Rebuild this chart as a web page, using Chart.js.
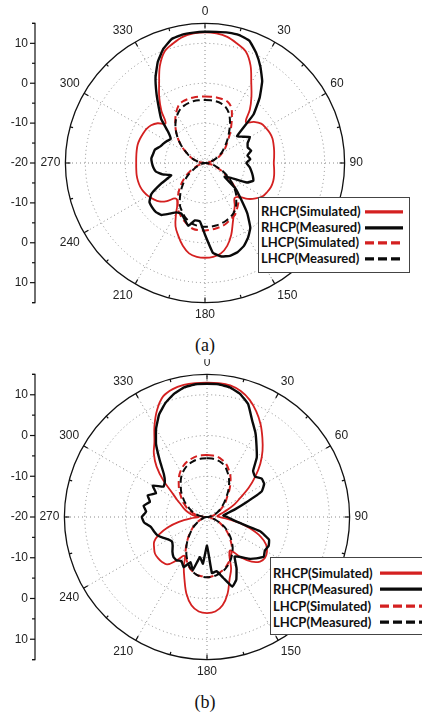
<!DOCTYPE html>
<html>
<head>
<meta charset="utf-8">
<script src="https://cdn.jsdelivr.net/npm/chart.js@4.4.0/dist/chart.umd.min.js"></script>
<style>
  html, body { margin: 0; padding: 0; background: #fff; }
  body { width: 422px; height: 714px; position: relative; overflow: hidden; }
  .plot { position: absolute; left: 0; top: 0; width: 422px; }
  .clip { position: absolute; left: 0; overflow: hidden; width: 422px; }
  .legend { position: absolute; background: #fff; border: 1px solid #444; box-sizing: border-box;
            font-family: Lato, "Liberation Sans", sans-serif; font-weight: 700; font-size: 13px; color: #111; }
  .legend .row { position: relative; white-space: nowrap; }
  .legend svg { position: absolute; }
  .caption { position: absolute; left: 0; width: 410px; text-align: center;
             font-family: "Liberation Serif", serif; font-size: 18px; color: #111; }
</style>
</head>
<body>

<canvas id="chartA" class="plot" width="422" height="330"></canvas>
<div id="legendA" class="legend" style="left:258px; top:197px; width:152px; height:76px;"></div>
<div class="caption" style="top:335px;">(a)</div>

<div class="clip" style="top:359px; height:330px;">
  <canvas id="chartB" class="plot" style="top:-4px;" width="422" height="334"></canvas>
</div>
<div id="legendB" class="legend" style="left:270px; top:557px; width:170px; height:78px;"></div>
<div class="caption" style="top:692px;">(b)</div>

<script>
// angle categories (degrees, clockwise from top)
var angles = [0, 5, 10, 15, 20, 25, 30, 35, 40, 45, 50, 55, 60, 65, 70, 75, 80, 85,
              90, 95, 100, 105, 110, 115, 120, 125, 130, 135, 140, 145, 150, 155, 160, 165, 170, 175,
              180, 185, 190, 195, 200, 205, 210, 215, 220, 225, 230, 235, 240, 245, 250, 255, 260, 265,
              270, 275, 280, 285, 290, 295, 300, 305, 310, 315, 320, 325, 330, 335, 340, 345, 350, 355];

var gainTicks  = [-20, -10, 0, 10, 15];   // radial grid
var axisLabels = [-10, 0, 10];            // left axis labels (mirrored above/below centre)
var axisMinor  = [-15, -5, 5, 15];

var seriesNames = ['RHCP(Simulated)', 'RHCP(Measured)', 'LHCP(Simulated)', 'LHCP(Measured)'];

// ---- pattern (a) ----
var a_rhcpSim = [12.75, 12.6, 12.1, 11.0, 9.8, 7.0, 3.2, 0.3, -2.5, -5.5, -4.0, -2.8,
                 -2.4, -2.1, -2.0, -2.2, -2.4, -2.6, -2.75, -2.6, -2.4, -2.3, -2.4, -2.8,
                 -3.3, -4.5, -6.0, -8.0, -8.5, -7.0, -5.5, -3.5, -0.8, 1.5, 3.0, 3.6,
                 3.75, 3.6, 3.0, 1.5, -0.5, -2.5, -5.5, -8.0, -8.4, -6.5, -5.0, -4.2,
                 -3.5, -3.0, -2.7, -2.6, -2.6, -2.7, -2.75, -2.7, -2.6, -2.5, -2.6, -2.8,
                 -3.0, -3.5, -4.5, -6.0, -3.0, 0.0, 3.0, 6.8, 9.7, 11.0, 12.1, 12.6];
var a_rhcpMeas = [12.9, 13.0, 13.2, 13.2, 12.6, 10.4, 7.8, 5.0, 1.3, -2.8, -9.5, -8.5,
                  -7.0, -8.2, -8.6, -8.0, -9.2, -8.6, -9.6, -8.8, -8.2, -7.6, -7.1, -8.4,
                  -12.5, -14.0, -10.0, -7.3, -3.5, -0.2, 1.6, 3.0, 3.8, 4.1, 3.8, 2.6,
                  -2.0, -5.3, -5.4, -3.7, -5.0, -6.0, -5.7, -4.5, -3.0, -2.6, -2.7, -3.0,
                  -4.5, -8.0, -11.0, -9.0, -7.5, -7.0, -6.7, -6.5, -6.8, -7.0, -8.0, -8.5,
                  -9.0, -9.5, -8.0, -4.5, -2.0, 1.2, 4.8, 8.0, 10.5, 12.2, 12.7, 12.8];
var a_lhcpSim = [-3.3, -3.3, -3.3, -3.4, -3.6, -4.5, -6.5, -8.5, -10.2, -11.8, -13.0, -14.0,
                 -15.0, -16.0, -17.0, -18.0, -19.0, -20, -20, -20, -19.0, -18.0, -17.0, -15.5,
                 -14.0, -12.0, -10.0, -8.0, -7.0, -6.0, -5.0, -4.5, -4.0, -3.6, -3.4, -3.2,
                 -3.1, -3.1, -3.2, -3.8, -4.6, -5.5, -6.5, -8.0, -9.5, -11.0, -12.5, -14.0,
                 -15.5, -17.0, -18.0, -19.0, -20, -20, -20, -19.5, -18.5, -17.5, -16.5, -15.5,
                 -14.5, -13.0, -11.5, -10.0, -8.5, -7.0, -5.5, -4.2, -3.6, -3.4, -3.3, -3.3];
var a_lhcpMeas = [-4.2, -4.2, -4.3, -4.5, -5.0, -6.0, -7.5, -9.2, -10.8, -12.2, -13.5, -14.5,
                  -15.5, -16.5, -17.5, -18.5, -19.5, -20, -20, -19.5, -18.5, -17.5, -16.5, -15.0,
                  -13.5, -12.0, -10.5, -9.0, -7.8, -6.5, -5.6, -5.0, -4.6, -4.3, -4.1, -4.0,
                  -4.0, -4.1, -4.3, -4.8, -5.5, -6.5, -7.5, -9.0, -10.5, -12.0, -13.5, -15.0,
                  -16.5, -17.5, -18.5, -19.5, -20, -20, -20, -19.5, -18.5, -17.5, -16.5, -15.5,
                  -14.5, -13.0, -11.5, -10.0, -8.5, -7.2, -6.1, -5.2, -4.7, -4.4, -4.2, -4.2];

// ---- pattern (b) ----
var b_rhcpSim = [13.0, 13.0, 12.8, 12.0, 10.6, 8.6, 6.3, 3.7, 1.2, -1.5, -4.5, -7.5,
                 -10.5, -12.5, -14.5, -16.0, -17.0, -17.5, -17.0, -15.0, -12.0, -9.0, -6.0, -4.0,
                 -3.0, -2.6, -3.0, -4.5, -7.0, -10.0, -9.0, -6.0, -3.8, -0.5, 2.0, 3.3,
                 3.6, 3.3, 2.0, -0.5, -3.8, -6.5, -9.0, -7.0, -4.8, -4.4, -4.3, -4.4,
                 -5.0, -5.7, -7.5, -10.0, -13.0, -16.0, -18.0, -17.0, -16.0, -15.0, -14.0, -13.0,
                 -11.5, -9.5, -6.0, -2.5, 0.3, 2.5, 5.8, 9.0, 11.5, 12.5, 12.9, 13.0];
var b_rhcpMeas = [12.7, 12.7, 12.3, 11.3, 9.5, 6.2, 3.8, 1.2, -1.0, -4.0, -4.6, -3.6,
                  -3.8, -5.2, -10.0, -13.0, -15.0, -16.0, -15.0, -14.0, -12.0, -6.5, -3.8, -3.3,
                  -3.6, -3.0, -4.2, -5.5, -7.2, -8.2, -5.5, -3.0, -1.8, -4.5, -6.5, -6.2,
                  -13.0, -8.5, -10.0, -6.5, -8.2, -6.4, -7.5, -7.0, -7.2, -8.0, -9.0, -9.5,
                  -9.0, -8.0, -7.0, -6.5, -6.0, -4.5, -4.0, -5.0, -4.2, -5.5, -4.5, -6.2,
                  -4.6, -7.0, -6.5, -5.0, -2.0, 1.8, 5.0, 7.8, 9.8, 11.3, 12.3, 12.7];
var b_lhcpSim = [-4.8, -4.85, -5.0, -5.5, -6.2, -7.3, -8.5, -10.0, -11.5, -13.0, -14.0, -15.0,
                 -16.0, -16.8, -17.5, -18.2, -19.0, -19.5, -20, -20, -19.5, -18.5, -17.5, -16.5,
                 -15.5, -14.2, -13.0, -11.8, -10.5, -9.5, -8.5, -7.6, -6.8, -6.2, -5.7, -5.4,
                 -5.2, -5.4, -5.6, -6.2, -7.0, -8.2, -9.5, -11.0, -12.5, -13.8, -15.0, -16.0,
                 -17.0, -17.8, -18.5, -19.0, -19.5, -20, -20, -19.0, -17.5, -16.5, -15.5, -14.5,
                 -13.5, -12.5, -11.5, -10.3, -9.2, -8.0, -7.0, -6.2, -5.6, -5.2, -4.9, -4.8];
var b_lhcpMeas = [-5.6, -5.6, -5.8, -6.2, -6.9, -8.0, -9.2, -10.6, -12.0, -13.4, -14.5, -15.5,
                  -16.3, -17.0, -17.8, -18.5, -19.2, -19.7, -20, -20, -19.5, -18.5, -17.5, -16.2,
                  -15.0, -13.8, -12.6, -11.4, -10.2, -9.2, -8.2, -7.3, -6.6, -6.0, -5.6, -5.3,
                  -5.2, -5.3, -5.6, -6.2, -7.2, -8.5, -9.8, -11.2, -12.6, -14.0, -15.2, -16.2,
                  -17.2, -18.0, -18.7, -19.2, -19.6, -20, -20, -19.2, -18.0, -17.0, -16.2, -15.3,
                  -14.3, -13.2, -12.2, -11.0, -10.0, -8.8, -7.8, -7.0, -6.4, -6.0, -5.7, -5.6];

var RED = '#d42020', BLACK = '#0a0a0a';
var lineStyles = [
  { color: RED,   width: 1.8, dash: [],     tension: 0.35 },
  { color: BLACK, width: 2.4, dash: [],     tension: 0.1 },
  { color: RED,   width: 2,   dash: [7, 4], tension: 0.35 },
  { color: BLACK, width: 2,   dash: [7, 4], tension: 0.35 }
];

// rim ticks, outer circle and the left dB axis, all from the r scale
const polarFrame = {
  id: 'polarFrame',
  afterDraw(chart, args, opts) {
    const s = chart.scales.r, ctx = chart.ctx;
    const R = s.drawingArea, cx = s.xCenter, cy = s.yCenter;
    ctx.save();
    ctx.strokeStyle = '#111';
    ctx.lineWidth = 1.3;
    ctx.beginPath();
    ctx.arc(cx, cy, R, 0, Math.PI * 2);
    ctx.stroke();

    ctx.lineWidth = 1.2;
    angles.forEach(function(a, i) {
      if (a % 15) return;
      const len = a % 30 ? 3 : 5;
      const p1 = s.getPointPosition(i, R), p2 = s.getPointPosition(i, R - len);
      ctx.beginPath(); ctx.moveTo(p1.x, p1.y); ctx.lineTo(p2.x, p2.y); ctx.stroke();
    });

    // left axis
    const x = opts.axisX;
    ctx.beginPath();
    ctx.moveTo(x - 3, cy - R); ctx.lineTo(x, cy - R); ctx.lineTo(x, cy + R); ctx.lineTo(x - 3, cy + R);
    ctx.stroke();
    ctx.font = '12px "Liberation Sans", Arial, sans-serif';
    ctx.fillStyle = '#222';
    ctx.textAlign = 'right';
    ctx.textBaseline = 'middle';
    axisMinor.forEach(function(v) {
      const d = s.getDistanceFromCenterForValue(v);
      [cy - d, cy + d].forEach(function(y) {
        ctx.beginPath(); ctx.moveTo(x - 3, y); ctx.lineTo(x, y); ctx.stroke();
      });
    });
    axisLabels.forEach(function(v) {
      const d = s.getDistanceFromCenterForValue(v);
      [cy - d, cy + d].forEach(function(y) {
        ctx.beginPath(); ctx.moveTo(x - 5, y); ctx.lineTo(x, y); ctx.stroke();
        ctx.fillText(String(v), x - 7, y);
      });
    });
    ctx.beginPath(); ctx.moveTo(x - 5, cy); ctx.lineTo(x, cy); ctx.stroke();
    ctx.fillText(String(gainTicks[0]), x - 7, cy);
    ctx.restore();
  }
};

function makeChart(id, series, pad, axisX) {
  const datasets = series.map(function(data, k) {
    const st = lineStyles[k];
    return {
      label: seriesNames[k],
      data: data,
      borderColor: st.color,
      borderWidth: st.width,
      borderDash: st.dash,
      tension: st.tension,
      fill: false,
      pointRadius: 0,
      order: k % 2 === 1 ? 0 : 1
    };
  });

  return new Chart(document.getElementById(id).getContext('2d'), {
    type: 'radar',
    data: { labels: angles, datasets: datasets },
    options: {
      responsive: false,
      animation: false,
      layout: { padding: pad },
      plugins: {
        legend: { display: false },
        tooltip: { enabled: false },
        polarFrame: { axisX: axisX }
      },
      scales: {
        r: {
          min: -20,
          max: 15,
          afterBuildTicks: function(scale) {
            scale.ticks = gainTicks.map(function(v) { return { value: v }; });
          },
          ticks: { display: false },
          grid: {
            circular: true,
            color: function(c) { return c.tick && c.tick.value === 15 ? 'rgba(0,0,0,0)' : '#8a8a8a'; },
            lineWidth: 1
          },
          border: { dash: [1, 3] },
          angleLines: {
            color: function(c) { return angles[c.index] % 30 === 0 ? '#8a8a8a' : 'rgba(0,0,0,0)'; },
            lineWidth: 1,
            borderDash: [1, 3]
          },
          pointLabels: {
            padding: 5,
            color: '#222',
            font: { family: '"Liberation Sans", Arial, sans-serif', size: 12 },
            callback: function(label) { return label % 30 === 0 ? String(label) : ''; }
          }
        }
      }
    },
    plugins: [polarFrame]
  });
}

function makeLegend(id, rowH, top, sampleX, sampleW) {
  const box = document.getElementById(id);
  seriesNames.forEach(function(name, k) {
    const st = lineStyles[k];
    const row = document.createElement('div');
    row.className = 'row';
    row.style.height = rowH + 'px';
    row.style.lineHeight = rowH + 'px';
    row.style.paddingLeft = '2px';
    if (k === 0) row.style.marginTop = top + 'px';
    row.textContent = name;
    const svg = document.createElementNS('http://www.w3.org/2000/svg', 'svg');
    svg.setAttribute('width', sampleW);
    svg.setAttribute('height', rowH);
    svg.style.left = sampleX + 'px';
    svg.style.top = '0px';
    const ln = document.createElementNS('http://www.w3.org/2000/svg', 'line');
    ln.setAttribute('x1', 0); ln.setAttribute('x2', sampleW);
    ln.setAttribute('y1', rowH / 2); ln.setAttribute('y2', rowH / 2);
    ln.setAttribute('stroke', st.color);
    ln.setAttribute('stroke-width', 3.2);
    if (st.dash.length) ln.setAttribute('stroke-dasharray', '9 4');
    svg.appendChild(ln);
    row.appendChild(svg);
    box.appendChild(row);
  });
}

makeChart('chartA', [a_rhcpSim, a_rhcpMeas, a_lhcpSim, a_lhcpMeas], { top: 4, left: 0, right: 12, bottom: 8 }, 35);
makeChart('chartB', [b_rhcpSim, b_rhcpMeas, b_lhcpSim, b_lhcpMeas], { top: 0, left: 0, right: 8, bottom: 10 }, 35);
makeLegend('legendA', 15.7, 6, 106, 38);
makeLegend('legendB', 16.3, 7, 109, 45);
</script>
</body>
</html>
